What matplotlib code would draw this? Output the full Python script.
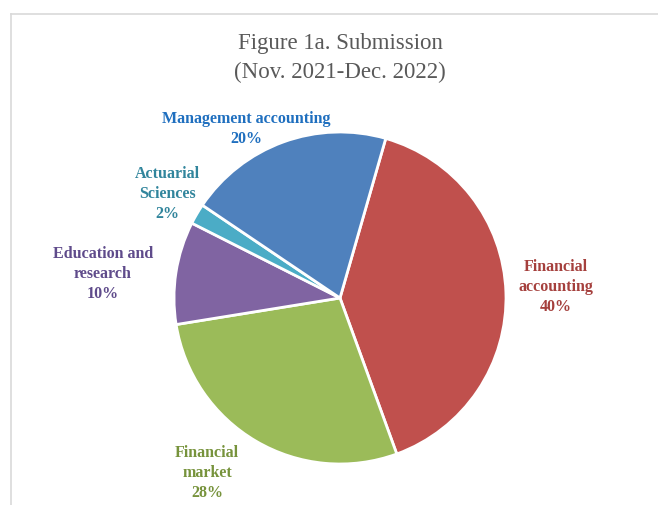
import matplotlib
matplotlib.use("Agg")
import matplotlib.pyplot as plt

# data, clockwise from the top
categories = ["Financial\naccounting", "Financial\nmarket", "Education and\nresearch",
              "Actuarial\nSciences", "Management accounting"]
shares = [40, 28, 10, 2, 20]

slice_colors = ["#C0504D", "#9BBB59", "#8064A2", "#4BACC6", "#4F81BD"]
text_colors = ["#A5403D", "#77933C", "#5F4B8B", "#31859C", "#1F6FBF"]
# label centres in pixels (x from left, y from top)
label_px = [(556, 287), (207, 473), (103, 274), (167, 194), (246, 129)]

W, H = 658, 505
plt.rcParams["font.family"] = ["Liberation Serif", "DejaVu Serif"]

fig = plt.figure(figsize=(W / 100, H / 100), dpi=100)

# chart frame (cropped Excel border)
fig.add_artist(plt.Line2D([11 / W, 1], [1 - 14 / H, 1 - 14 / H], color="#D9D9D9", lw=1.2))
fig.add_artist(plt.Line2D([11 / W, 11 / W], [0, 1 - 14 / H], color="#D9D9D9", lw=1.2))

cx, cy, r = 340, 298, 166
ax = fig.add_axes([(cx - r) / W, (H - cy - r) / H, 2 * r / W, 2 * r / H])
ax.pie(shares, colors=slice_colors, startangle=74, counterclock=False, radius=1,
       wedgeprops=dict(edgecolor="white", linewidth=2))
ax.set_xlim(-1, 1)
ax.set_ylim(-1, 1)
ax.set_aspect("equal")
ax.axis("off")

fig.text(cx / W, 1 - 58 / H, "Figure 1a. Submission\n(Nov. 2021-Dec. 2022)",
         ha="center", va="center", fontsize=16.5, color="#595959", linespacing=1.45)

for name, val, col, (px, py) in zip(categories, shares, text_colors, label_px):
    fig.text(px / W, 1 - py / H, f"{name}\n{val}%", ha="center", va="center",
             fontsize=11.5, fontweight="bold", color=col, linespacing=1.32)

fig.savefig("out.png", dpi=100)
